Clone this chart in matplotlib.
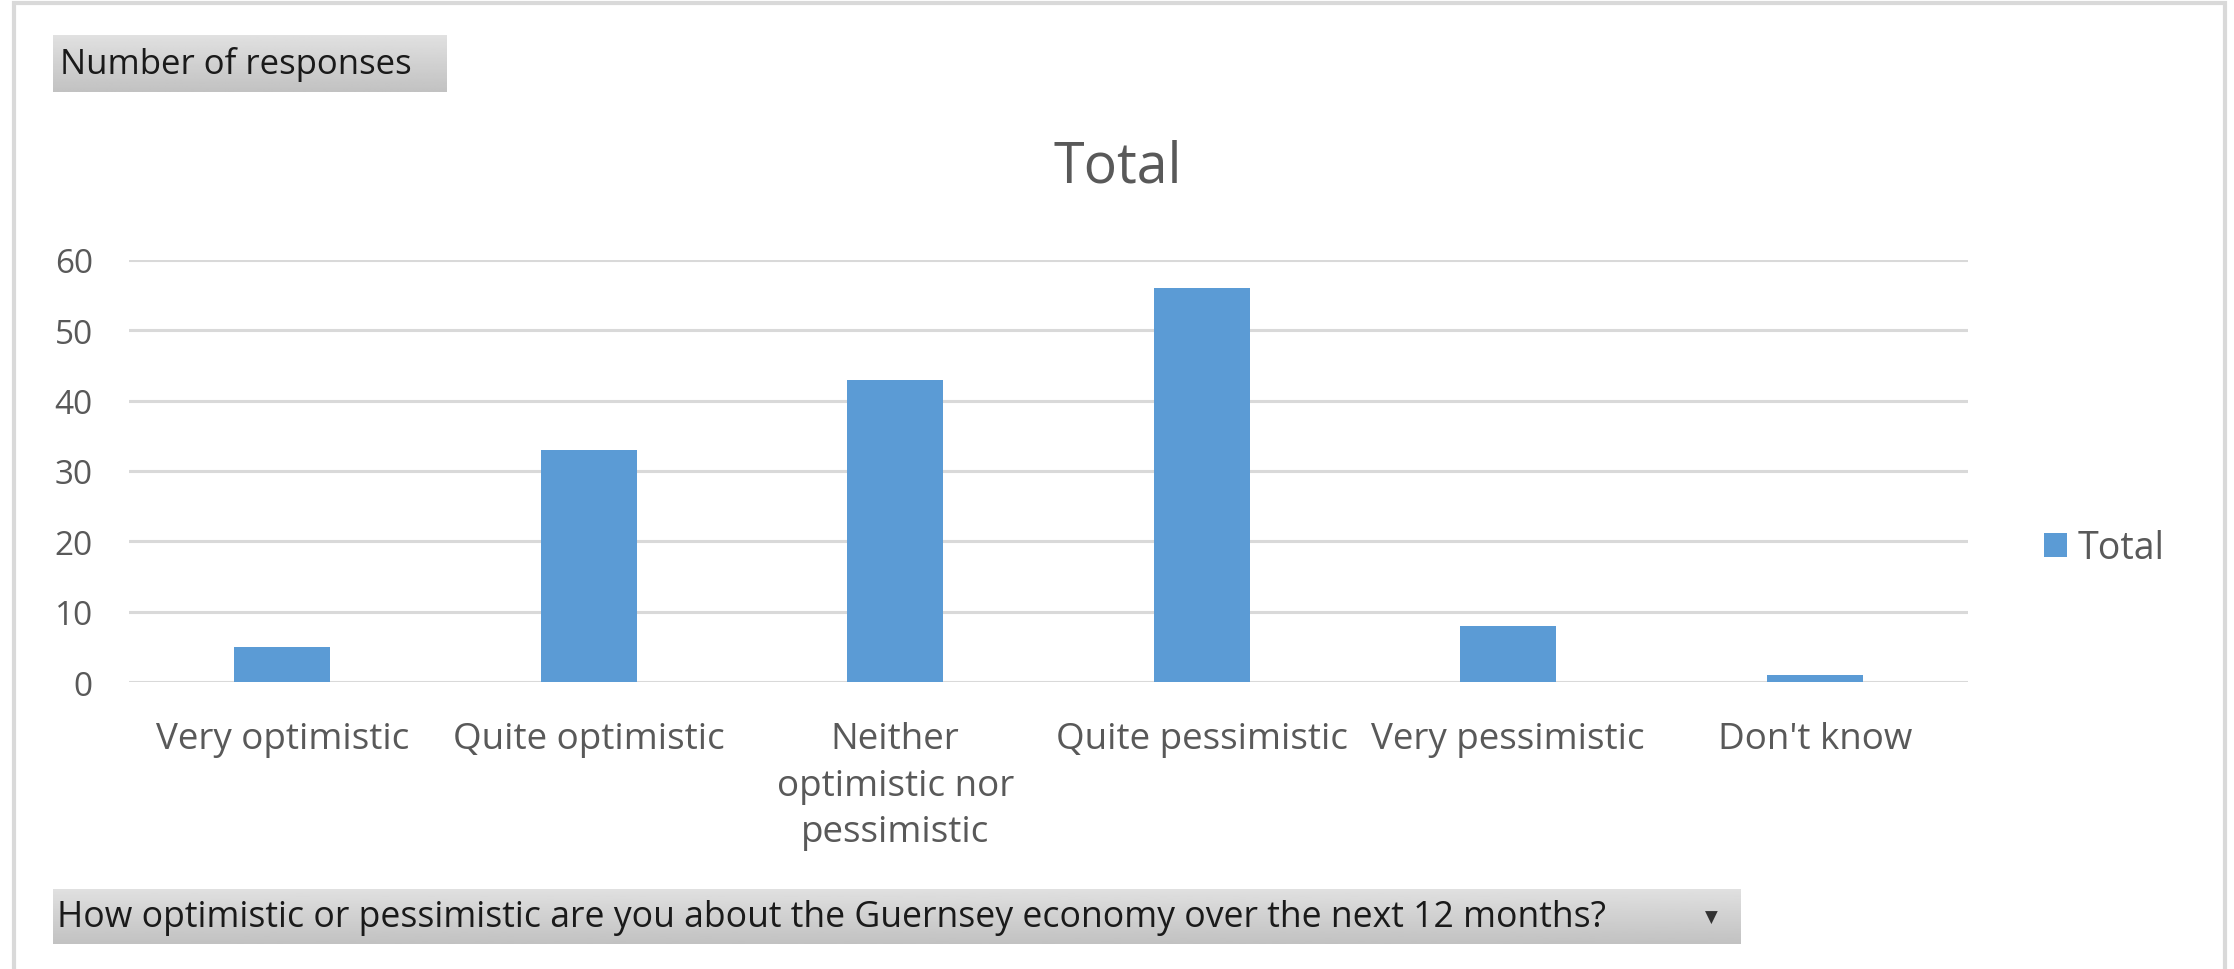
import numpy as np
import matplotlib
matplotlib.use('Agg')
import matplotlib.pyplot as plt
from matplotlib.patches import Rectangle

categories = ['Very optimistic', 'Quite optimistic', 'Neither\noptimistic nor\npessimistic',
              'Quite pessimistic', 'Very pessimistic', "Don't know"]
totals = [5, 33, 43, 56, 8, 1]
yticks = [0, 10, 20, 30, 40, 50, 60]

W, H = 2234, 970
plt.rcParams['font.family'] = ['Open Sans', 'DejaVu Sans']
grey = '#595959'
blue = '#5b9bd5'

fig = plt.figure(figsize=(W / 100, H / 100), dpi=100)

def fx(px):
    return px / W

def fy(py):
    return 1 - py / H

# outer frame of the pivot chart
fig.patches.append(Rectangle((fx(14), fy(990)), fx(2225) - fx(14), fy(4) - fy(990),
                             transform=fig.transFigure, fill=False,
                             edgecolor='#d9d9d9', linewidth=3))

ax = fig.add_axes([fx(129), fy(683), fx(1968) - fx(129), fy(261) - fy(683)])
x = np.arange(len(categories))
ax.bar(x, totals, width=0.313, color=blue, label='Total', zorder=3)
ax.set_xlim(-0.5, len(categories) - 0.5)
ax.set_ylim(0, 60)
ax.set_yticks(yticks)
ax.set_xticks(x)
ax.set_xticklabels(categories, fontsize=26.5, color=grey, linespacing=1.4)
ax.tick_params(axis='y', labelsize=24, labelcolor=grey, length=0, pad=26)
ax.tick_params(axis='x', length=0, pad=28)
ax.grid(axis='y', color='#d9d9d9', linewidth=2.2, zorder=0)
for s in ax.spines.values():
    s.set_visible(False)

fig.text(fx(1118), fy(168), 'Total', fontsize=40, color=grey, ha='center', va='center')

fig.legend(loc='center left', bbox_to_anchor=(fx(2044), fy(549)), frameon=False,
           fontsize=27, labelcolor=grey, handlelength=0.6, handleheight=0.6,
           handletextpad=0.3, borderpad=0, borderaxespad=0)

# grey gradient field buttons
grad = np.linspace(0.88, 0.76, 50).reshape(-1, 1)

def button(x0, y0, x1, y1):
    b = fig.add_axes([fx(x0), fy(y1), fx(x1) - fx(x0), fy(y0) - fy(y1)])
    b.imshow(grad, cmap='gray', vmin=0, vmax=1, aspect='auto', extent=(0, 1, 0, 1))
    b.set_axis_off()
    return b

button(53, 36, 447, 93)
fig.text(fx(60), fy(65), 'Number of responses', fontsize=25, color='#1a1a1a', va='center')

button(53, 890, 1741, 945)
fig.text(fx(57), fy(918), 'How optimistic or pessimistic are you about the Guernsey economy over the next 12 months?',
         fontsize=25.7, color='#1a1a1a', va='center')
fig.text(fx(1711), fy(918), '▼', fontsize=12, color='#333333', va='center', ha='center',
         family='DejaVu Sans')

fig.savefig('out.png', dpi=100, facecolor='white')
